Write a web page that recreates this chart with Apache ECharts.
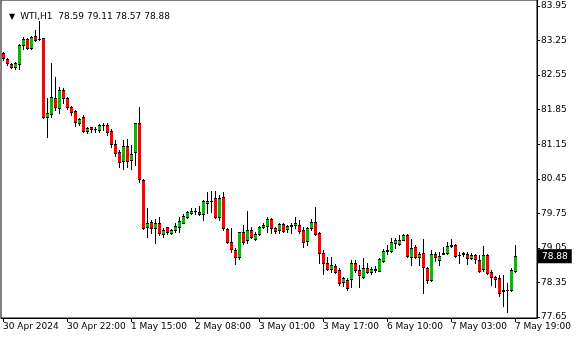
<!DOCTYPE html>
<html><head><meta charset="utf-8">
<script src="https://cdn.jsdelivr.net/npm/echarts@6/dist/echarts.min.js"></script>
<style>html,body{margin:0;padding:0;background:#fff}#c{width:580px;height:340px}</style>
</head><body><div id="c"></div>
<script>
const symbolName = 'WTI,H1';
const opens  = [82.99,82.88,82.77,82.71,82.77,83.16,83.28,83.09,83.35,83.28,83.30,81.71,81.76,82.09,81.89,82.24,82.08,81.91,81.82,81.57,81.70,81.42,81.49,81.45,81.44,81.53,81.54,81.42,81.15,81.00,80.80,81.11,80.83,80.99,81.57,80.43,79.47,79.58,79.45,79.55,79.33,79.47,79.36,79.41,79.48,79.56,79.68,79.75,79.79,79.78,79.74,79.95,79.99,80.07,79.68,80.08,79.43,79.16,79.01,78.87,79.37,79.21,79.41,79.24,79.34,79.47,79.50,79.63,79.45,79.41,79.53,79.43,79.50,79.51,79.52,79.41,79.19,79.46,79.57,79.36,78.94,78.75,78.62,78.68,78.60,78.35,78.40,78.41,78.74,78.60,78.47,78.64,78.57,78.61,78.59,78.79,78.98,78.98,79.14,79.13,79.21,79.31,78.87,79.06,78.86,78.94,78.64,78.39,78.93,78.81,78.93,78.94,79.08,79.11,78.90,78.93,78.93,78.85,78.91,78.81,78.62,78.91,78.57,78.46,78.43,78.18,78.19,78.20,78.59];
const highs  = [83.02,82.89,82.79,82.82,83.18,83.32,83.31,83.35,83.46,83.65,83.31,82.08,82.80,82.52,82.30,82.28,82.11,81.92,81.84,81.69,81.75,81.50,81.50,81.50,81.55,81.57,81.57,81.45,81.24,81.03,81.24,81.25,81.13,81.58,81.91,80.45,79.85,79.62,79.64,79.68,79.45,79.48,79.43,79.55,79.68,79.73,79.80,79.85,79.85,79.89,80.02,80.18,80.20,80.20,80.12,80.19,79.45,79.45,79.05,79.38,79.51,79.80,79.48,79.38,79.50,79.55,79.67,79.65,79.48,79.55,79.55,79.51,79.55,79.67,79.62,79.48,79.48,79.64,79.87,79.38,79.01,78.87,78.87,78.72,78.64,78.47,78.43,78.80,78.80,78.70,78.84,78.75,78.66,78.68,78.84,79.02,79.10,79.26,79.26,79.31,79.33,79.33,79.23,79.11,78.97,79.22,78.67,79.01,78.97,78.97,79.06,79.16,79.24,79.13,78.97,78.97,78.96,78.95,78.93,78.91,79.08,78.93,78.60,78.48,78.50,78.50,78.33,78.64,79.11];
const lows   = [82.86,82.75,82.69,82.67,82.67,83.07,83.08,83.07,83.24,83.26,81.68,81.29,81.71,81.84,81.78,81.99,81.86,81.74,81.52,81.54,81.40,81.38,81.39,81.40,81.40,81.44,81.34,81.10,80.91,80.68,80.64,80.68,80.65,80.73,80.38,79.43,79.27,79.35,79.14,79.31,79.28,79.33,79.33,79.38,79.38,79.55,79.66,79.73,79.73,79.71,79.62,79.75,79.78,79.65,79.62,79.41,79.15,78.97,78.72,78.83,79.13,79.14,79.25,79.21,79.31,79.45,79.38,79.35,79.35,79.36,79.38,79.38,79.35,79.45,79.35,79.07,79.11,79.41,79.31,78.74,78.52,78.60,78.57,78.54,78.30,78.27,78.20,78.26,78.57,78.25,78.45,78.54,78.52,78.57,78.58,78.77,78.92,78.96,79.05,79.11,79.20,78.87,78.70,78.84,78.70,78.14,78.33,78.37,78.79,78.70,78.92,78.93,79.06,78.87,78.75,78.89,78.73,78.83,78.75,78.57,78.59,78.52,78.30,78.26,78.08,77.87,77.76,78.18,78.57];
const closes = [82.89,82.79,82.71,82.79,83.16,83.28,83.09,83.33,83.26,83.29,81.71,81.78,82.10,81.91,82.25,82.08,81.91,81.80,81.59,81.66,81.42,81.48,81.45,81.46,81.53,81.54,81.40,81.15,80.98,80.78,81.11,80.80,80.96,81.57,80.45,79.46,79.56,79.45,79.55,79.35,79.41,79.37,79.41,79.49,79.60,79.70,79.77,79.80,79.80,79.73,79.99,79.99,80.00,79.68,80.07,79.45,79.16,79.02,78.87,79.37,79.16,79.41,79.28,79.34,79.48,79.51,79.63,79.46,79.40,79.53,79.40,79.49,79.51,79.55,79.40,79.17,79.45,79.57,79.33,78.94,78.75,78.62,78.70,78.57,78.33,78.43,78.23,78.74,78.60,78.50,78.64,78.57,78.62,78.62,78.82,78.99,79.01,79.16,79.20,79.21,79.31,78.89,79.04,78.86,78.93,78.66,78.39,78.92,78.86,78.89,78.94,79.09,79.11,78.89,78.91,78.94,78.85,78.91,78.83,78.59,78.91,78.55,78.46,78.42,78.14,78.19,78.20,78.60,78.88];
const yTickValues = [77.65,78.35,79.05,79.75,80.45,81.15,81.85,82.55,83.25,83.95];
const xTickLabels = ['30 Apr 2024','30 Apr 22:00','1 May 15:00','2 May 08:00','3 May 01:00','3 May 17:00','6 May 10:00','7 May 03:00','7 May 19:00'];
const LABEL_EVERY = 16;
const TOTAL_SLOTS = 134;

const cats = [];
for (let i = 0; i < TOTAL_SLOTS; i++) cats.push(String(i));
const candleData = opens.map((o, i) => [i, o, closes[i], lows[i], highs[i]]);
const last = opens.length - 1;
const lastClose = closes[last];
const headerText = symbolName + '  ' + [opens[last], highs[last], lows[last], closes[last]].map(v => v.toFixed(2)).join(' ');

const UP = '#1fa81f', DOWN = '#d81010', EDGE = '#000';
function renderCandle(params, api) {
  const i = api.value(0), o = api.value(1), c = api.value(2), l = api.value(3), h = api.value(4);
  const xc = Math.floor(api.coord([i, o])[0]);
  const yO = Math.round(api.coord([i, o])[1]);
  const yC = Math.round(api.coord([i, c])[1]);
  const yL = Math.round(api.coord([i, l])[1]);
  const yH = Math.round(api.coord([i, h])[1]);
  const top = Math.min(yO, yC), bot = Math.max(yO, yC);
  const children = [
    {type: 'rect', shape: {x: xc, y: yH, width: 1, height: yL - yH + 1}, style: {fill: EDGE}}
  ];
  if (bot - top >= 2) {
    children.push({type: 'rect', shape: {x: xc - 1, y: top, width: 3, height: bot - top + 1}, style: {fill: c >= o ? UP : DOWN}});
    children.push({type: 'rect', shape: {x: xc - 1, y: top, width: 3, height: 1}, style: {fill: EDGE}});
    children.push({type: 'rect', shape: {x: xc - 1, y: bot, width: 3, height: 1}, style: {fill: EDGE}});
  } else {
    children.push({type: 'rect', shape: {x: xc - 1, y: top, width: 3, height: bot - top + 1}, style: {fill: EDGE}});
  }
  return {type: 'group', children: children};
}

const FONT = 'DejaVu Sans';
const chart = echarts.init(document.getElementById('c'), null, {renderer: 'canvas'});
chart.setOption({
  animation: false,
  backgroundColor: '#fff',
  title: {
    left: 4, top: 3,
    text: '{tri|▼} {t|' + headerText + '}',
    textStyle: {
      fontWeight: 'normal',
      rich: {
        tri: {fontSize: 8, color: '#000', fontFamily: FONT, fontWeight: 'normal'},
        t: {fontSize: 9, color: '#000', fontFamily: FONT, fontWeight: 'normal'}
      }
    }
  },
  grid: {left: 1, top: 0, width: 536, height: 318, show: true, borderColor: '#000', borderWidth: 1, backgroundColor: '#fff'},
  xAxis: {
    type: 'category',
    data: cats,
    boundaryGap: true,
    axisLine: {show: true, lineStyle: {color: '#000', width: 1}},
    axisTick: {show: true, interval: LABEL_EVERY - 1, alignWithLabel: true, length: 4, lineStyle: {color: '#000'}},
    axisLabel: {
      interval: LABEL_EVERY - 1, align: 'left', margin: 4,
      fontSize: 9, fontFamily: FONT, color: '#000',
      formatter: (v, idx) => xTickLabels[Math.round(idx / LABEL_EVERY)] || ''
    },
    splitLine: {show: false}
  },
  yAxis: {
    type: 'value',
    position: 'right',
    min: 77.63, max: 84.07,
    scale: true,
    axisLine: {show: true, lineStyle: {color: '#000', width: 1}},
    axisTick: {show: true, length: 3, lineStyle: {color: '#000'}, customValues: yTickValues},
    axisLabel: {
      customValues: yTickValues,
      showMinLabel: true, showMaxLabel: true,
      margin: 4, fontSize: 9, fontFamily: FONT, color: '#000',
      formatter: v => Number(v).toFixed(2)
    },
    splitLine: {show: false}
  },
  series: [{
    type: 'custom',
    data: candleData,
    encode: {x: 0, y: [1, 2, 3, 4]},
    renderItem: renderCandle,
    silent: true,
    clip: true,
    markLine: {
      silent: true,
      symbol: 'none',
      lineStyle: {color: 'rgba(0,0,0,0)', width: 0},
      data: [{yAxis: lastClose}],
      label: {
        show: true, position: 'end', distance: 1,
        formatter: lastClose.toFixed(2),
        color: '#fff', backgroundColor: '#000',
        padding: [3, 4, 2, 4],
        fontSize: 9, fontFamily: FONT
      }
    }
  }]
});
</script>
</body></html>
